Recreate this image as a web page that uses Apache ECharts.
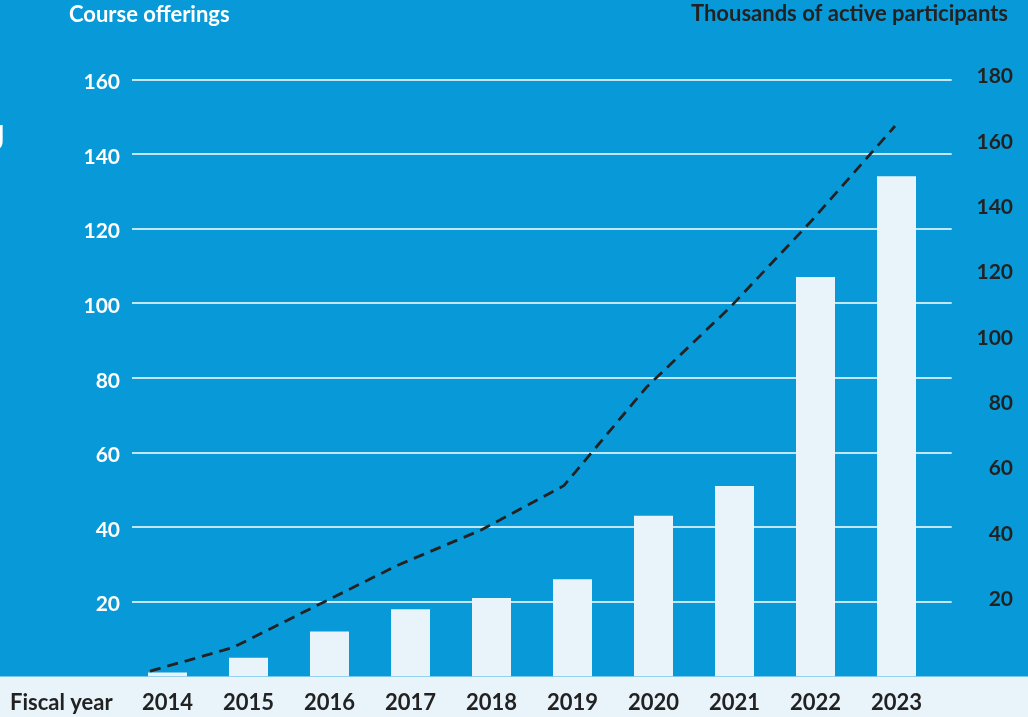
<!DOCTYPE html>
<html>
<head>
<meta charset="utf-8">
<script src="https://cdn.jsdelivr.net/npm/echarts@6/dist/echarts.min.js"></script>
<style>
html,body{margin:0;padding:0;background:#089ad8;}
#chart{width:1028px;height:717px;}
</style>
</head>
<body>
<div id="chart"></div>
<script>
const years = ['2014','2015','2016','2017','2018','2019','2020','2021','2022','2023'];
const courseOfferings = [1, 5, 12, 18, 21, 26, 43, 51, 107, 134];
const participantsK = [-2, 5.2, 17.9, 30.5, 41.2, 54.8, 85, 109.2, 136.1, 164.9];
const leftTitle = 'Course offerings';
const rightTitle = 'Thousands of active participants';
const xTitle = 'Fiscal year';

const BLUE = '#089ad8';
const LIGHT = '#e8f4fa';
const DARK = '#222222';
const FONT = 'Lato';

const chart = echarts.init(document.getElementById('chart'), null, {renderer: 'canvas'});
chart.setOption({
  backgroundColor: BLUE,
  animation: false,
  grid: [
    {left: 132, right: 76.3, top: 79.3, bottom: 40.7},   // gridlines + left labels
    {left: 127, right: 91, top: 79.3, bottom: 40.7},     // bars
    {left: 150, right: 133, top: 76.7, bottom: 52.4}     // line + right labels
  ],
  xAxis: [
    {gridIndex: 0, type: 'value', min: 0, max: 1, show: false},
    {gridIndex: 1, type: 'category', data: years, z: 20,
      axisLine: {show: false}, axisTick: {show: false},
      axisLabel: {color: DARK, fontFamily: FONT, fontWeight: 'bold', fontSize: 22, margin: 16}},
    {gridIndex: 2, type: 'category', data: years, boundaryGap: false, show: false}
  ],
  yAxis: [
    {gridIndex: 0, type: 'value', min: 0, max: 160, interval: 20,
      axisLine: {show: false}, axisTick: {show: false},
      splitLine: {show: true, showMinLine: false, lineStyle: {color: '#ffffff', width: 1.5}},
      axisLabel: {showMinLabel: false, margin: 12, formatter: '{a|{value}}',
        rich: {a: {color: '#ffffff', fontFamily: FONT, fontWeight: 'bold', fontSize: 21, padding: [6, 0, 0, 0]}}}},
    {gridIndex: 1, type: 'value', min: 0, max: 160, show: false},
    {gridIndex: 2, type: 'value', min: 0, max: 180, interval: 20, position: 'right',
      axisLine: {show: false}, axisTick: {show: false}, splitLine: {show: false},
      axisLabel: {showMinLabel: false, color: DARK, fontFamily: FONT, fontWeight: 'bold', fontSize: 21, margin: 118, align: 'right'}}
  ],
  series: [
    {type: 'bar', xAxisIndex: 1, yAxisIndex: 1, data: courseOfferings, barWidth: 39,
      itemStyle: {color: LIGHT}, z: 3},
    {type: 'line', xAxisIndex: 2, yAxisIndex: 2, data: participantsK, clip: false,
      symbol: 'none', lineStyle: {color: DARK, width: 2.8, type: [11, 7]}, z: 5}
  ],
  graphic: [
    {type: 'rect', left: 0, top: 676.5, z: -10, shape: {width: 1028, height: 41}, style: {fill: LIGHT}},
    {type: 'text', x: 69, y: 15, z: 10, style: {text: leftTitle, fill: '#ffffff', font: 'bold 22px Lato', textVerticalAlign: 'middle'}},
    {type: 'text', x: 1008, y: 14, z: 10, style: {text: rightTitle, fill: DARK, font: 'bold 22px Lato', textAlign: 'right', textVerticalAlign: 'middle'}},
    {type: 'text', x: 10, y: 703, z: 10, style: {text: xTitle, fill: DARK, font: 'bold 22px Lato', textVerticalAlign: 'middle'}},
    {type: 'text', x: 5, y: 139, z: 10, style: {text: 'J', fill: '#ffffff', font: 'bold 34px Lato', textAlign: 'right', textVerticalAlign: 'middle'}}
  ]
});
</script>
</body>
</html>
